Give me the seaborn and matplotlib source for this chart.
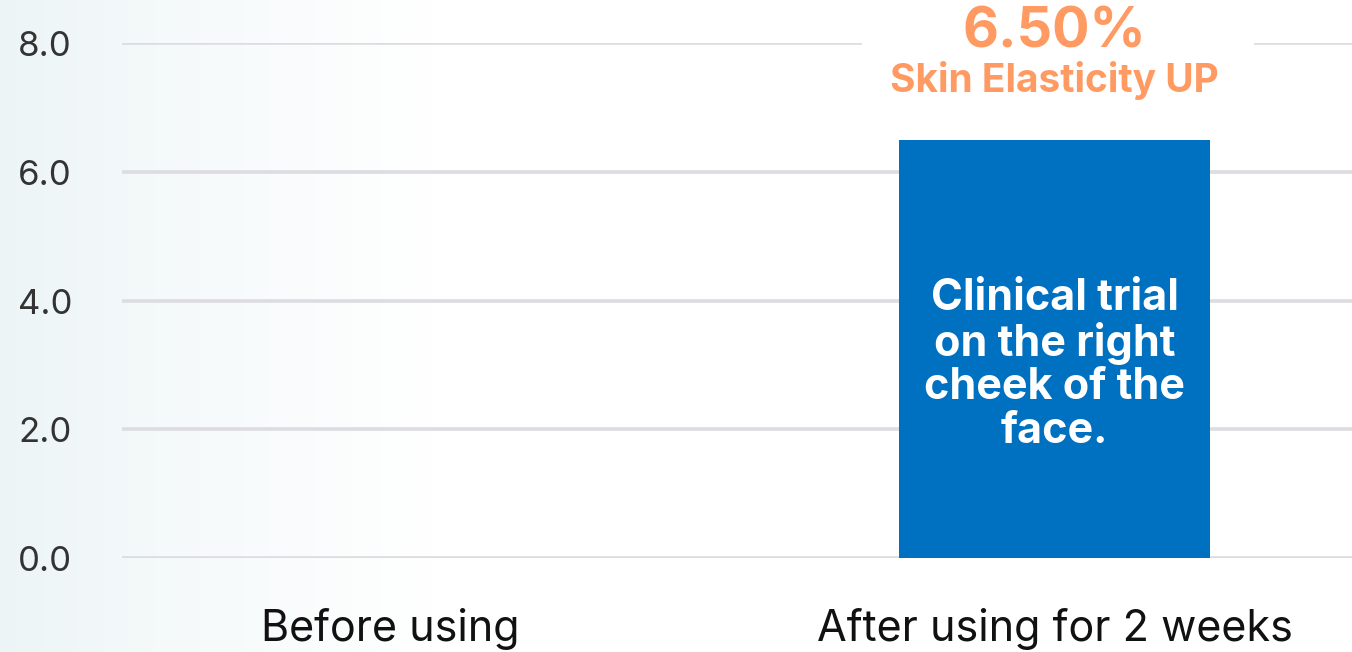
import numpy as np
import pandas as pd
import matplotlib
matplotlib.use("Agg")
import matplotlib.pyplot as plt
from matplotlib.patches import Rectangle
import matplotlib.transforms as mtransforms
import seaborn as sns

categories = ["Before using", "After using for 2 weeks"]
values = [0.0, 6.5]
yticks = [0.0, 2.0, 4.0, 6.0, 8.0]
headline = "6.50%"
subline = "Skin Elasticity UP"
bar_note = "Clinical trial\non the right\ncheek of the\nface."

sns.set_theme(style="white")
plt.rcParams["font.family"] = ["Inter", "DejaVu Sans"]

W, H = 1352, 652
fig = plt.figure(figsize=(W / 100, H / 100), dpi=100)

# background gradient
bg = fig.add_axes([0, 0, 1, 1], zorder=-10)
xs = np.linspace(0, 1, 400)
t = np.clip(xs / 0.32, 0, 1) ** 0.8
left = np.array([0.925, 0.958, 0.965])
row = left[None, :] * (1 - t[:, None]) + np.ones(3)[None, :] * t[:, None]
img = np.repeat(row[None, :, :], 2, axis=0)
bg.imshow(img, aspect="auto", extent=[0, 1, 0, 1])
bg.set_axis_off()

ax = fig.add_axes([122 / W, (H - 558) / H, (W - 122) / W, (558 - 43) / H])
ax.patch.set_alpha(0)
df = pd.DataFrame({"cat": categories, "val": values})
sns.barplot(data=df, x="cat", y="val", ax=ax, color="#0070C0", saturation=1,
            width=0.468, edgecolor="none", zorder=2)

ax.set_xlim(-0.403, 1.447)
ax.set_ylim(0, 8)
ax.set_yticks(yticks)
ax.set_yticklabels([f"{v:.1f}" for v in yticks])
ax.yaxis.grid(True, color="#DCDCE1", linewidth=2.6)
ax.set_axisbelow(True)
for s in ax.spines.values():
    s.set_visible(False)
ax.tick_params(axis="y", length=0, pad=36, labelsize=25, labelcolor="#333333")
ax.tick_params(axis="x", length=0, pad=36, labelsize=31, labelcolor="#111111")
off = mtransforms.ScaledTranslation(0, -4 / 100, fig.dpi_scale_trans)
for lbl in ax.get_yticklabels():
    lbl.set_verticalalignment("center")
    lbl.set_transform(lbl.get_transform() + off)
ax.set_xlabel("")
ax.set_ylabel("")

# white panel behind headline
ax.add_patch(Rectangle((0.71, 6.9), 0.59, 2.0, facecolor="white", edgecolor="none",
                       zorder=1.5, clip_on=False))

ax.text(1, 8.17, headline, ha="center", va="center", fontsize=40, fontweight="bold",
        color="#FF9A63", clip_on=False, zorder=5)
ax.text(1, 7.42, subline, ha="center", va="center", fontsize=28, fontweight="bold",
        color="#FF9A63", clip_on=False, zorder=5)
ax.text(1, 3.0, bar_note, ha="center", va="center", fontsize=31, fontweight="bold",
        color="white", linespacing=1.08, zorder=5)

fig.savefig("out.png", dpi=100)
